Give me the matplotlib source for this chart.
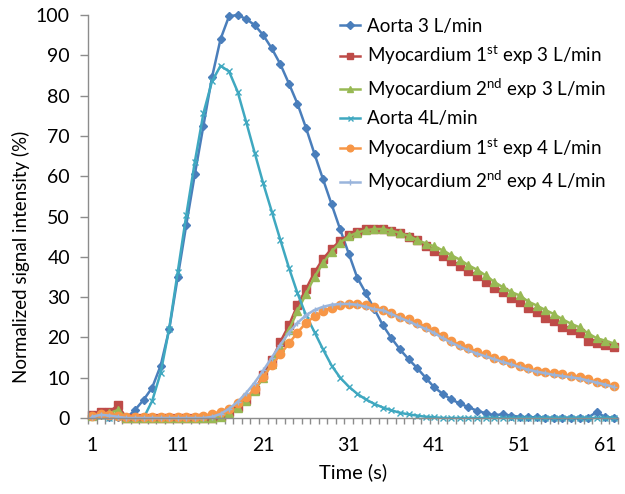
import numpy as np
import matplotlib
matplotlib.use("Agg")
import matplotlib.pyplot as plt
from matplotlib.ticker import FixedLocator, NullFormatter

plt.rcParams['font.family'] = ['Lato', 'DejaVu Sans']
plt.rcParams['mathtext.fontset'] = 'custom'
plt.rcParams['mathtext.rm'] = 'Lato'
plt.rcParams['mathtext.it'] = 'Lato:italic'

# time points (s)
time = np.arange(1, 63)

aorta_3 = [0.5, 0.8, 0.3, 0.2, 0.0, 2.0, 4.5, 7.5, 13.0, 22.0,
           35.0, 48.0, 60.5, 72.5, 84.5, 94.0, 99.7, 100.0, 99.0, 97.5,
           95.0, 91.7, 87.8, 83.0, 78.0, 72.0, 65.5, 59.2, 53.0, 46.8,
           40.8, 34.8, 31.0, 27.0, 23.0, 19.8, 17.0, 14.6, 12.4, 10.0,
           7.6, 6.0, 4.6, 3.6, 2.7, 1.8, 1.2, 0.7, 0.9, 0.6,
           0.3, 0.2, 0.2, 0.1, 0.1, 0.1, 0.1, 0.1, 0.1, 1.5,
           0.2, 0.1]
myo1_3 = [0.7, 1.5, 1.5, 3.2, 0, 0, 0, 0, 0, 0,
          0, 0, 0, 0, 0, 0.5, 1.6, 2.8, 4.5, 7.0,
          10.7, 14.4, 18.9, 23.0, 28.0, 32.0, 36.2, 39.5, 42.0, 44.0,
          45.4, 46.2, 46.8, 47.0, 46.9, 46.5, 45.8, 45.0, 44.2, 42.8,
          41.5, 40.3, 38.9, 37.7, 36.4, 35.2, 33.8, 32.2, 31.2, 29.9,
          28.7, 27.4, 26.2, 24.9, 24.0, 22.5, 21.9, 21.2, 19.2, 18.6,
          18.2, 17.6]
myo2_3 = [0.5, 1.0, 1.2, 2.0, 0, 0, 0, 0, 0, 0,
          0, 0, 0, 0, 0, 0.3, 1.2, 2.5, 4.3, 6.8,
          10.0, 13.5, 17.5, 21.8, 26.5, 30.8, 35.0, 38.5, 41.3, 43.5,
          45.1, 46.0, 46.6, 46.9, 46.9, 46.5, 45.9, 45.2, 44.2, 43.3,
          42.6, 41.6, 40.4, 39.3, 37.9, 36.8, 35.4, 33.8, 32.5, 31.3,
          30.4, 28.9, 27.9, 26.8, 25.8, 24.5, 23.4, 22.5, 21.0, 19.8,
          19.2, 18.5]
aorta_4 = [0.3, 0.5, 0.0, 0.3, 0.0, 0.0, 0.0, 4.2, 11.2, 22.2,
           36.3, 50.4, 63.6, 75.6, 83.5, 87.4, 86.0, 81.0, 73.5, 65.8,
           58.2, 51.2, 44.2, 37.3, 31.0, 25.5, 21.3, 17.0, 13.0, 10.0,
           7.8, 6.0, 4.6, 3.5, 2.6, 1.9, 1.3, 0.9, 0.6, 0.3,
           0.2, 0, 0, 0, 0, 0, 0, 0, 0, 0,
           0, 0, 0, 0, 0, 0, 0, 0, 0, 0,
           0, 0]
myo1_4 = [0.5, 1.0, 0.8, 0.5, 0.3, 0.3, 0.3, 0.3, 0.3, 0.3,
          0.3, 0.3, 0.3, 0.5, 1.0, 1.6, 2.2, 3.6, 5.1, 7.2,
          10.2, 13.1, 15.8, 18.5, 21.2, 23.6, 25.2, 26.5, 27.4, 28.0,
          28.3, 28.4, 28.1, 27.6, 26.8, 26.0, 25.1, 24.5, 23.5, 22.7,
          21.7, 20.3, 19.1, 18.1, 17.3, 16.5, 15.8, 15.0, 14.4, 13.7,
          12.9, 12.3, 11.7, 11.5, 11.1, 10.8, 10.4, 10.1, 9.6, 9.0,
          8.6, 7.9]
myo2_4 = [0.3, 0.8, 0.6, 0.3, 0, 0, 0, 0, 0, 0,
          0, 0, 0, 0, 0.3, 1.0, 2.3, 4.0, 6.2, 8.8,
          11.8, 15.0, 18.2, 21.2, 23.6, 25.5, 26.8, 27.6, 28.1, 28.3,
          28.3, 28.1, 27.6, 27.0, 26.7, 25.8, 24.8, 24.0, 23.0, 22.1,
          21.1, 19.8, 18.7, 17.7, 16.8, 16.0, 15.3, 14.6, 13.9, 13.3,
          12.6, 12.0, 11.5, 11.1, 10.7, 10.4, 10.1, 9.8, 9.3, 8.8,
          8.3, 7.7]

labels = ['Aorta 3 L/min',
          r'Myocardium 1$^{\mathrm{st}}$ exp 3 L/min',
          r'Myocardium 2$^{\mathrm{nd}}$ exp 3 L/min',
          'Aorta 4L/min',
          r'Myocardium 1$^{\mathrm{st}}$ exp 4 L/min',
          r'Myocardium 2$^{\mathrm{nd}}$ exp 4 L/min']

fig = plt.figure(figsize=(6.25, 4.94), dpi=100)
ax = fig.add_axes([88 / 625, 1 - 418 / 494, 530 / 625, 403 / 494])

styles = [
    dict(color='#4A7EBB', marker='D', ms=4.5),
    dict(color='#BE4B48', marker='s', ms=5.5),
    dict(color='#98B954', marker='^', ms=6),
    dict(color='#3FA8C0', marker='x', ms=4.5, mew=1.0),
    dict(color='#F79646', marker='o', ms=6),
    dict(color='#9AB5DC', marker='+', ms=5, mew=1.0),
]
series = [aorta_3, myo1_3, myo2_3, aorta_4, myo1_4, myo2_4]
for y, lab, st in zip(series, labels, styles):
    ax.plot(time, y, lw=1.8, label=lab, clip_on=False, **st)

ax.set_xlim(0.5, 62.5)
ax.set_ylim(0, 100)
ax.set_yticks(np.arange(0, 101, 10))
ax.set_xticks(np.arange(1, 62, 10))
ax.xaxis.set_minor_locator(FixedLocator(np.arange(0.5, 63, 1)))
ax.xaxis.set_minor_formatter(NullFormatter())

for s in ['top', 'right']:
    ax.spines[s].set_visible(False)
for s in ['left', 'bottom']:
    ax.spines[s].set_color('#8C8C8C')
    ax.spines[s].set_linewidth(1.0)

ax.tick_params(axis='y', direction='out', length=6, width=1, color='#8C8C8C',
               labelsize=14, pad=7)
ax.tick_params(axis='x', which='major', length=0, labelsize=14, pad=14)
ax.tick_params(axis='x', which='minor', direction='out', length=4.5, width=1,
               color='#8C8C8C')

ax.set_xlabel('Time (s)', fontsize=14.5, labelpad=6)
ax.set_ylabel('Normalized signal intensity (%)', fontsize=13.5)
ax.yaxis.set_label_coords(-0.11, 0.40)

ax.legend(loc='upper left', bbox_to_anchor=(340 / 625, 1 - 18 / 494),
          bbox_transform=fig.transFigure, frameon=False, fontsize=13.5,
          handlelength=1.05, handletextpad=0.4, labelspacing=0.5,
          borderpad=0, borderaxespad=0, markerscale=0.8)

fig.savefig('out.png', dpi=100)
